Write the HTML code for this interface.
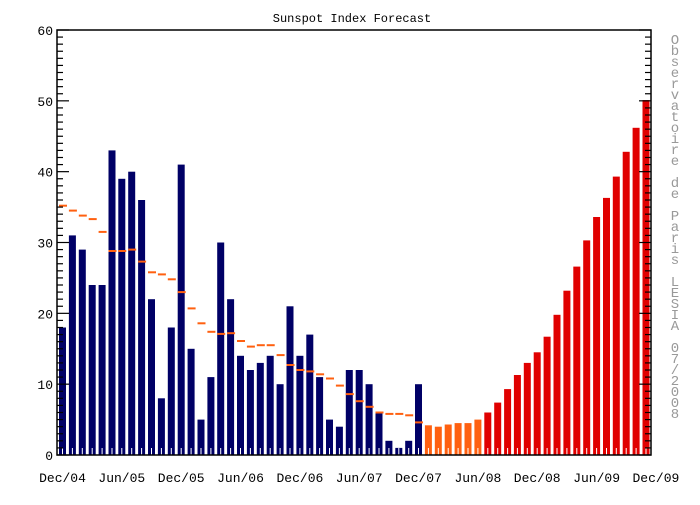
<!DOCTYPE html>
<html><head><meta charset="utf-8"><style>
body{margin:0;background:#fff;width:700px;height:500px;overflow:hidden}
text{font-family:"Liberation Mono","DejaVu Sans Mono",monospace}
</style></head><body>
<svg id="s" width="700" height="500" xmlns="http://www.w3.org/2000/svg"></svg>
<script>
const s=document.getElementById('s');let h='';
const L=57,R=651,T=30,B=455,u=(B-T)/60,p=9.89,bw=7,x0=59;
const Y=v=>B-v*u;
const blue=[18,31,29,24,24,43,39,40,36,22,8,18,41,15,5,11,30,22,14,12,13,14,10,21,14,17,11,5,4,12,12,10,6,2,1,2,10];
const orange=[4.2,4,4.3,4.5,4.5,5];
const red=[6,7.4,9.3,11.3,13,14.5,16.7,19.8,23.2,26.6,30.3,33.6,36.3,39.3,42.8,46.2,50.1];
const sm=[35.2,34.5,33.8,33.3,31.5,28.8,28.8,29,27.3,25.8,25.5,24.8,23,20.7,18.6,17.4,17.1,17.2,16.1,15.3,15.5,15.5,14.1,12.7,12,11.8,11.4,10.8,9.8,8.6,7.6,6.8,6,5.8,5.8,5.6,4.6];
const all=[...blue.map(v=>[v,'#000066']),...orange.map(v=>[v,'#ff6010']),...red.map(v=>[v,'#e00000'])];
all.forEach((d,i)=>{const x=x0+i*p;h+=`<rect x="${x.toFixed(1)}" y="${Y(d[0]).toFixed(1)}" width="${bw}" height="${(d[0]*u).toFixed(1)}" fill="${d[1]}"/>`;
h+=`<rect x="${(x+3).toFixed(1)}" y="${B-7}" width="1" height="7" fill="#fff"/>`;});
sm.forEach((v,i)=>{const x=x0+i*p;h+=`<rect x="${(x).toFixed(1)}" y="${(Y(v)-1).toFixed(1)}" width="8" height="2" fill="#ff6010"/>`;});
h+=`<rect x="${L}" y="${T}" width="${R-L}" height="${B-T}" fill="none" stroke="#000" stroke-width="1.5"/>`;
for(let v=0;v<=60;v++){const y=Y(v),len=v%10==0?12:6;
h+=`<line x1="${L}" x2="${L+len}" y1="${y}" y2="${y}" stroke="#000" stroke-width="1.2"/>`;
h+=`<line x1="${R-len}" x2="${R}" y1="${y}" y2="${y}" stroke="#000" stroke-width="1.2"/>`;
if(v%10==0)h+=`<text x="${L-4}" y="${y+5}" font-size="13" text-anchor="end">${v}</text>`;}
const lab=['Dec/04','Jun/05','Dec/05','Jun/06','Dec/06','Jun/07','Dec/07','Jun/08','Dec/08','Jun/09','Dec/09'];
lab.forEach((t,i)=>{h+=`<text x="${(x0+3.5+i*6*p).toFixed(1)}" y="482" font-size="13" text-anchor="middle">${t}</text>`;});
h+=`<text x="352" y="22" font-size="12" text-anchor="middle">Sunspot Index Forecast</text>`;
const st="Observatoire de Paris LESIA 07/2008";
[...st].forEach((c,i)=>{if(c!==' ')h+=`<text x="675" y="${(44+i*11.0).toFixed(1)}" font-size="14" fill="#999" text-anchor="middle">${c}</text>`;});
s.innerHTML=h;
</script>
</body></html>
